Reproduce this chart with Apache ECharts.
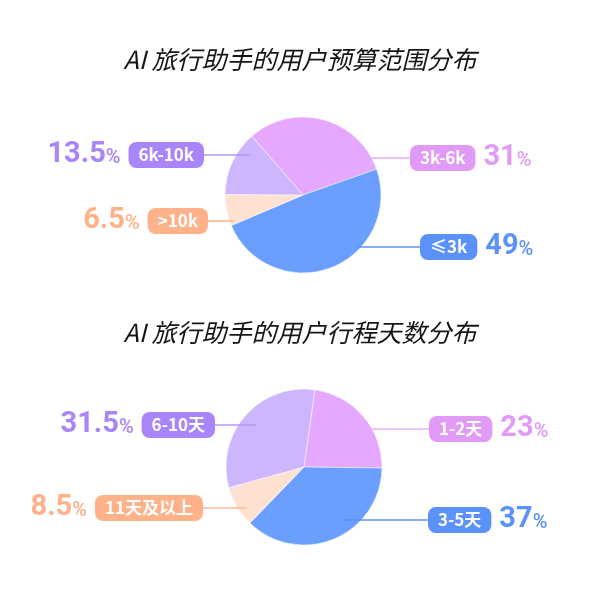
<!DOCTYPE html>
<html>
<head>
<meta charset="utf-8">
<script src="https://cdn.jsdelivr.net/npm/echarts@6/dist/echarts.min.js"></script>
<style>
  html, body { margin: 0; padding: 0; background: #fff; }
  #chart { width: 600px; height: 590px; }
</style>
</head>
<body>
<div id="chart"></div>
<script>
// 标题
const titles = ['AI 旅行助手的用户预算范围分布', 'AI 旅行助手的用户行程天数分布']
// 预算范围（%）
const budgetNames = ['3k-6k', '≤3k', '>10k', '6k-10k']
const budgetValues = [31, 49, 6.5, 13.5]
// 行程天数（%）
const tripNames = ['1-2天', '3-5天', '11天及以上', '6-10天']
const tripValues = [23, 37, 8.5, 31.5]

// 颜色：扇区 / 标签底色 / 引导线
const sliceColors = ['#E6A8FF', '#6A9EFF', '#FFE1D1', '#CEB6FF']
const tagColors = ['#E19AF6', '#5B92FA', '#FFB189', '#A885FA']
const lineColors = ['#E9AEF9', '#5B92FA', '#FFB995', '#B595FA']

// 每个饼图的位置，标签锚点 [相对圆心的y, 引导线起点x, 引导线终点x]
const pieLayouts = [
  { center: [303, 195], startAngle: 131, anchors: [[-37, 54, 107], [52, 55, 117], [26, -69, -95], [-40, -53, -99]] },
  { center: [304, 467], startAngle: 82, anchors: [[-38, 60, 125], [53, 40, 124], [41, -57, -101], [-42, -48, -89]] }
]

// rich 样式，按颜色序号生成
const rich = { gap: { width: 8 } }
tagColors.forEach((c, i) => {
  rich['pct' + i] = { fontFamily: 'Roboto', fontSize: 29, fontWeight: 'bold', color: c, lineHeight: 32 }
  rich['unit' + i] = { fontFamily: 'Roboto', fontSize: 20, fontWeight: 500, color: c, verticalAlign: 'bottom', padding: [0, 0, 3, 0] }
  rich['tag' + i] = {
    backgroundColor: c, borderRadius: 8, color: '#fff', fontSize: 17, fontWeight: 'bold',
    fontFamily: 'Noto Sans CJK SC', height: 26, lineHeight: 26, padding: [0, 10]
  }
})

// 底层：扇区本身
function basePie(names, values, layout) {
  return {
    type: 'pie',
    z: 2,
    center: layout.center,
    radius: 78,
    startAngle: layout.startAngle,
    silent: true,
    label: { show: false },
    labelLine: { show: false },
    itemStyle: { borderColor: '#fff', borderWidth: 0.5 },
    data: names.map((n, i) => ({ name: n, value: values[i], itemStyle: { color: sliceColors[i] } }))
  }
}

// 上层：透明扇区，只负责标签和引导线，让引导线压在饼图上
function labelPie(names, values, layout) {
  const cx = layout.center[0], cy = layout.center[1]
  return {
    type: 'pie',
    z: 3,
    center: layout.center,
    radius: 78,
    startAngle: layout.startAngle,
    silent: true,
    avoidLabelOverlap: false,
    itemStyle: { color: 'rgba(0,0,0,0)' },
    data: names.map((n, i) => ({
      name: n,
      value: values[i],
      labelLine: { lineStyle: { color: lineColors[i], width: 1.6 } }
    })),
    label: {
      show: true,
      position: 'outside',
      rich: rich,
      formatter: p => {
        const i = p.dataIndex
        const left = layout.anchors[i][2] < 0
        const pct = '{pct' + i + '|' + p.value + '}{unit' + i + '|%}'
        const tag = '{tag' + i + '|' + p.name + '}'
        return left ? pct + '{gap|}' + tag : tag + '{gap|}' + pct
      }
    },
    labelLine: { show: true },
    labelLayout: p => {
      const a = layout.anchors[p.dataIndex]
      const y = cy + a[0]
      const x0 = cx + a[1], x1 = cx + a[2]
      return {
        x: x1, y: y,
        align: a[2] < 0 ? 'right' : 'left',
        verticalAlign: 'middle',
        labelLinePoints: [[x0, y], [(x0 + x1) / 2, y], [x1, y]]
      }
    }
  }
}

const chart = echarts.init(document.getElementById('chart'))
chart.setOption({
  backgroundColor: '#fff',
  animation: false,
  title: titles.map((t, i) => ({
    text: t,
    left: 'center',
    top: i === 0 ? 42 : 315,
    textStyle: { fontFamily: 'Noto Sans CJK SC', fontSize: 25, fontWeight: 'normal', fontStyle: 'italic', color: '#151515' }
  })),
  series: [
    basePie(budgetNames, budgetValues, pieLayouts[0]),
    labelPie(budgetNames, budgetValues, pieLayouts[0]),
    basePie(tripNames, tripValues, pieLayouts[1]),
    labelPie(tripNames, tripValues, pieLayouts[1])
  ]
})
</script>
</body>
</html>
